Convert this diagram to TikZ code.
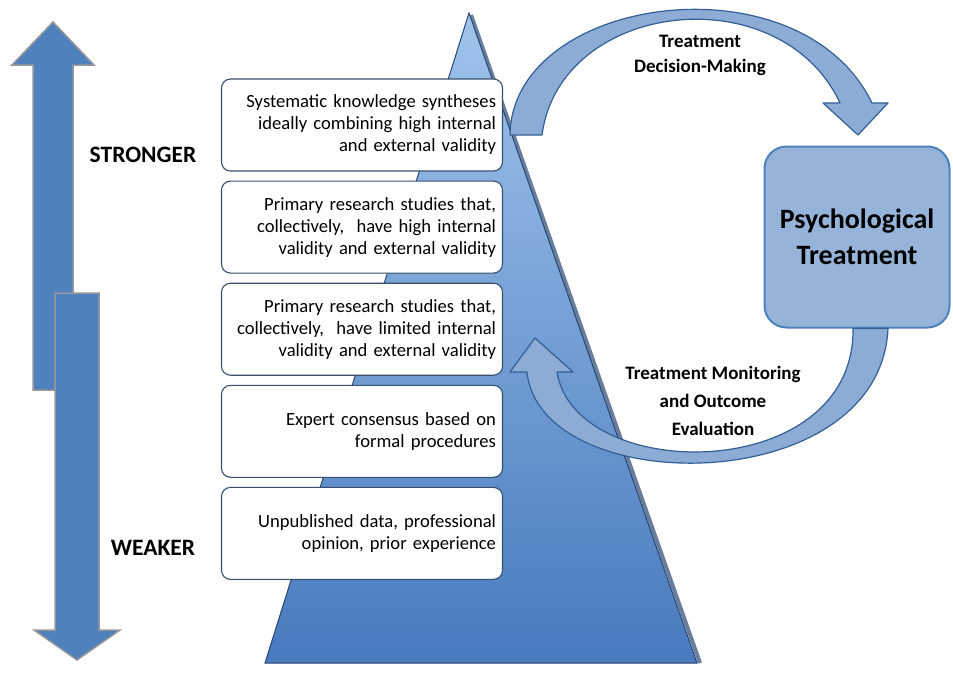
\documentclass[tikz,border=0pt]{standalone}
\usepackage{fontspec}
\setmainfont{Carlito}
\usetikzlibrary{positioning, calc}
\definecolor{barblue}{RGB}{79,129,189}
\definecolor{barrim}{RGB}{150,150,155}
\definecolor{tritop}{RGB}{160,196,235}
\definecolor{tribot}{RGB}{72,122,190}
\definecolor{triedge}{RGB}{40,70,115}
\definecolor{boxline}{RGB}{55,80,110}
\definecolor{loopfill}{RGB}{140,172,214}
\definecolor{loopline}{RGB}{50,95,150}
\definecolor{psyfill}{RGB}{150,180,218}
\begin{document}
\begin{tikzpicture}[x=1pt, y=-1pt,
    level/.style={
        draw=boxline,
        line width=1.1pt,
        fill=white,
        rounded corners=9pt,
        minimum width=281pt,
        minimum height=92pt,
        text width=268pt,
        inner sep=0pt,
        align=right,
        font=\fontsize{18.6}{22}\selectfont
    },
    tag/.style={font=\bfseries\fontsize{23.5}{28}\selectfont},
    step label/.style={align=center, font=\bfseries\fontsize{19}{25}\selectfont},
    loop/.style={fill=loopfill, draw=loopline, line width=1.2pt, line join=round},
    bar/.style={fill=barblue, draw=barrim, line width=1.5pt, line join=miter}]

    \useasboundingbox (0,0) rectangle (953,672);
    \fill[white] (0,0) rectangle (953,672);

    % Strength arrows
    \draw[bar] (33,390) -- (33,65) -- (12,65) -- (53,22) -- (94,65) -- (73,65) -- (73,390) -- cycle;
    \draw[bar] (55,293) -- (99,293) -- (99,630) -- (120,630) -- (77,660) -- (34,630) -- (55,630) -- cycle;
    \node[tag] (strong) at (143,155) {STRONGER};
    \node[tag] (weak) at (153,548) {WEAKER};

    % Pyramid
    \coordinate (apex) at (469,13);
    \coordinate (baseL) at (265,663);
    \coordinate (baseR) at (697,663);
    \draw[triedge!70, line width=4pt, line join=round] ($(apex)+(2,2)$) -- ($(baseR)+(3,0)$);
    \shade[top color=tritop, bottom color=tribot, draw=triedge, line width=1pt]
        (apex) -- (baseR) -- (baseL) -- cycle;

    % Levels of evidence
    \node[level] (lv1) at (362,125) {Systematic knowledge syntheses\\ideally combining high internal\\and external validity};
    \node[level, below=9pt of lv1] (lv2) {Primary research studies that,\\collectively,\ \ have high internal\\validity and external validity};
    \node[level, below=9pt of lv2] (lv3) {Primary research studies that,\\collectively,\ \ have limited internal\\validity and external validity};
    \node[level, below=9pt of lv3] (lv4) {Expert consensus based on\\formal procedures};
    \node[level, below=9pt of lv4] (lv5) {Unpublished data, professional\\opinion, prior experience};

    % Treatment
    \node[draw=barblue, line width=2pt, fill=psyfill, rounded corners=22pt,
          minimum width=185pt, minimum height=181pt, align=center,
          font=\bfseries\fontsize{28}{36}\selectfont] (psy) at (857,237) {Psychological\\Treatment};

    % Cycle arrows
    \draw[loop] (510,135) .. controls (512,-5) and (800,-45) .. (872,103)
        -- (888,103) -- (858,135) -- (823,103) -- (840,103)
        .. controls (780,-25) and (560,0) .. (542,135) -- cycle;
    \draw[loop] (psy.south -| 888,0) .. controls (880,500) and (540,500) .. (527,372)
        -- (510,372) -- (535,338) -- (573,372) -- (557,372)
        .. controls (575,485) and (855,485) .. (psy.south -| 853,0) -- cycle;
    \node[step label] (decide) at (700,55) {Treatment\\Decision-Making};
    \node[step label, font=\bfseries\fontsize{19}{28}\selectfont] (monitor) at (713,401) {Treatment Monitoring\\and Outcome\\Evaluation};

\end{tikzpicture}
\end{document}
